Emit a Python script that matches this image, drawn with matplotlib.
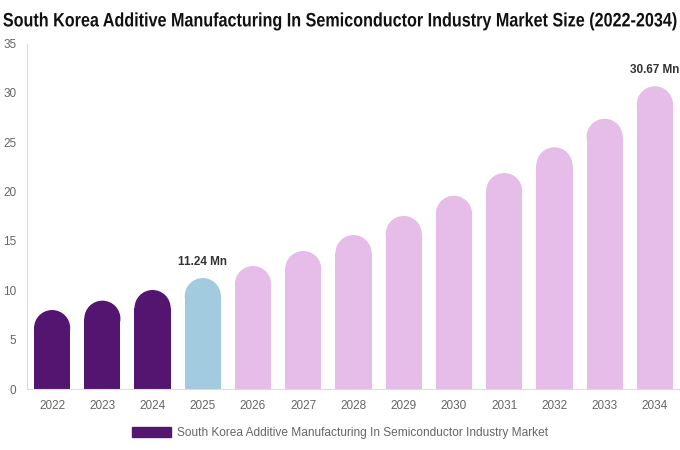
import matplotlib.pyplot as plt
from matplotlib.patches import Ellipse, Patch
from matplotlib.patheffects import AbstractPathEffect
from matplotlib.transforms import Affine2D

# data
years = ['2022', '2023', '2024', '2025', '2026', '2027', '2028',
         '2029', '2030', '2031', '2032', '2033', '2034']
values = [8.0, 8.95, 10.03, 11.24, 12.46, 13.98, 15.6,
          17.53, 19.58, 21.88, 24.49, 27.38, 30.67]
labels_shown = {3: '11.24 Mn', 12: '30.67 Mn'}
legend_label = 'South Korea Additive Manufacturing In Semiconductor Industry Market'
title = 'South Korea Additive Manufacturing In Semiconductor Industry Market Size (2022-2034)'

dark = '#541570'
blue = '#a3cbdf'
pink = '#e6bde8'
colors = [dark] * 3 + [blue] + [pink] * 9

plt.rcParams['font.family'] = ['Liberation Sans', 'DejaVu Sans']


class Stretch(AbstractPathEffect):
    # make the glyphs taller around a fixed centre line (title font is condensed)
    def __init__(self, sy, cy):
        super().__init__()
        self.sy = sy
        self.cy = cy

    def draw_path(self, renderer, gc, tpath, affine, rgbFace=None):
        st = Affine2D().translate(0, -self.cy).scale(1, self.sy).translate(0, self.cy)
        renderer.draw_path(gc, tpath, affine + st, rgbFace)


fig = plt.figure(figsize=(6.8, 4.5), dpi=100)
ax = fig.add_axes([27 / 680, 1 - 389 / 450, 1 - 27 / 680, (389 - 43.5) / 450])

ax.set_xlim(-0.5, len(years) - 0.5)
ax.set_ylim(0, 35)
ax.set_yticks(range(0, 36, 5))

width = 0.72
# radius of rounded top, in y data units (half bar width in pixels)
ax_h_px = (389 - 43.5)
ax_w_px = 680 - 27
r_px = width * ax_w_px / len(years) / 2
ry = r_px * 35 / ax_h_px

x = list(range(len(years)))
ax.bar(x, [v - ry for v in values], width=width, color=colors, linewidth=0)
for i, v in enumerate(values):
    ax.add_patch(Ellipse((i, v - ry), width, 2 * ry, color=colors[i], linewidth=0))
    if i in labels_shown:
        ax.text(i, v + 1.65, labels_shown[i], ha='center', va='center',
                fontsize=8.5, fontweight='bold', color='#333333')

ax.set_xticks(x)
ax.set_xticklabels(years)
ax.tick_params(length=0, labelsize=8.5, labelcolor='#666666')
ax.tick_params(axis='x', pad=8)
ax.tick_params(axis='y', pad=7.5)
for s in ['top', 'right']:
    ax.spines[s].set_visible(False)
for s in ['left', 'bottom']:
    ax.spines[s].set_color('#dddddd')

title_y = 1 - 21 / 450
t = fig.text(0.5, title_y, title, ha='center', va='center',
             fontsize=14, fontweight='bold', color='#111111')
fig.canvas.draw()
w = t.get_window_extent().width
t.set_fontsize(14 * 676 / w)
t.set_path_effects([Stretch(w / 676, title_y * fig.bbox.height)])

fig.legend(handles=[Patch(color=dark, label=legend_label)], loc='center',
           bbox_to_anchor=(0.5, 1 - 433 / 450), frameon=False, fontsize=8.6,
           handlelength=3.3, handleheight=0.9, handletextpad=0.5,
           labelcolor='#666666')

fig.savefig('out.png', dpi=100)
